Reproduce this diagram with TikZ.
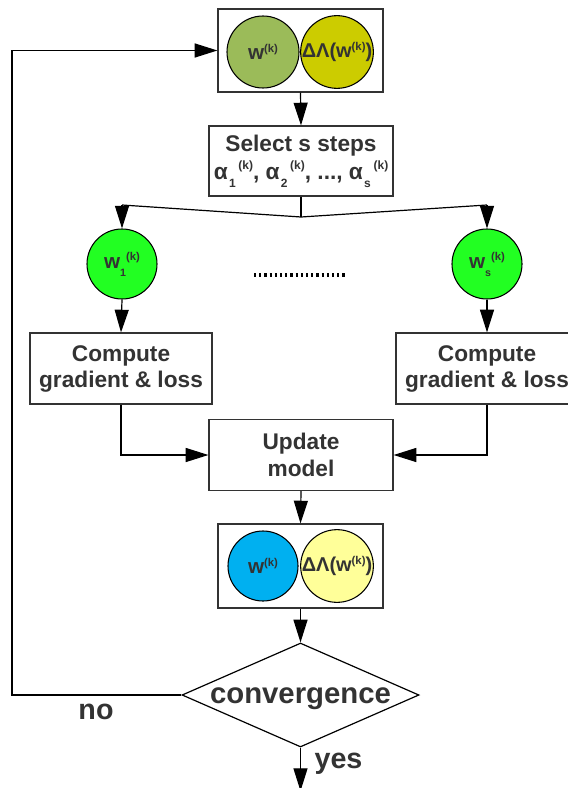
\documentclass[tikz,border=0pt]{standalone}
\usepackage{fontspec}
\setmainfont{Liberation Sans}
\usetikzlibrary{arrows.meta,shapes.geometric}
\definecolor{txt}{HTML}{333333}
\definecolor{oliveg}{HTML}{9BBB59}
\definecolor{mustard}{HTML}{CCCC00}
\definecolor{brightg}{HTML}{22FF22}
\definecolor{skyb}{HTML}{00B0F0}
\definecolor{paley}{HTML}{FFFF99}
\newcommand{\wk}{w\raisebox{4.9pt}{\fontsize{8.5}{8.5}\selectfont(k)}}
\newcommand{\wsub}[1]{w\raisebox{-6pt}{\fontsize{8}{8}\selectfont #1}\raisebox{6pt}{\fontsize{8.5}{8.5}\selectfont(k)}}
\newcommand{\alk}[1]{α\kern1pt\raisebox{-6pt}{\fontsize{9}{9}\selectfont #1}\kern2pt\raisebox{7pt}{\fontsize{9}{9}\selectfont(k)}}
\begin{document}
\begin{tikzpicture}[x=0.75pt,y=-0.75pt,
  box/.style={draw=txt, line width=0.9pt, fill=white, inner sep=0pt, text=txt,
    font=\bfseries\fontsize{17}{20}\selectfont, align=center},
  ball/.style={circle, draw=black, line width=0.8pt, inner sep=0pt, minimum size=#1,
    text=txt, font=\bfseries\fontsize{15.5}{15.5}\selectfont},
  ball/.default=52.5pt,
  arr/.style={-{Triangle[length=17pt,width=10.5pt]}, line width=0.9pt},
  conn/.style={line width=0.9pt},
  lbl/.style={inner sep=0pt, text=txt, font=\bfseries\fontsize{21.5}{21.5}\selectfont},
  dotline/.style={line width=3.2pt, dash pattern=on 1.6pt off 2.3pt},
]
\useasboundingbox (0,0) rectangle (567,788);

% top container
\node[box, minimum width=123.75pt, minimum height=62.25pt] (topbox) at (300.5,50.5) {};
\node[ball=54pt, fill=oliveg] (c1) at (263,52) {\wk};
\node[ball=54pt, fill=mustard, font=\bfseries\fontsize{15}{15}\selectfont] (c2) at (337,52) {ΔΛ(\wk)};

% select
\node[box, minimum width=138pt, minimum height=52.5pt, font=\bfseries\fontsize{17}{21}\selectfont] (select) at (301,161)
  {Select s steps\\\alk{1}, \alk{2}, ..., \alk{s}};

\coordinate (split) at (301,217);
\coordinate (bl) at (122,205);
\coordinate (br) at (487,205);

\node[ball, fill=brightg] (w1) at (122,264) {\wsub{1}};
\node[ball, fill=brightg] (ws) at (487,264) {\wsub{s}};

\coordinate (dl) at (254,275);
\coordinate (dr) at (347,275);

\node[box, minimum width=136.5pt, minimum height=53.25pt, text depth=3pt] (compL) at (121,368.5) {Compute\\gradient \& loss};
\node[box, minimum width=136.5pt, minimum height=53.25pt, text depth=3pt] (compR) at (487,368.5) {Compute\\gradient \& loss};

\node[box, minimum width=138pt, minimum height=53.25pt] (update) at (301,455) {Update\\model};

% bottom container
\node[box, minimum width=123.75pt, minimum height=63pt] (botbox) at (300.5,566) {};
\node[ball, fill=skyb] (c3) at (263,566) {\wk};
\node[ball, fill=paley, font=\bfseries\fontsize{15}{15}\selectfont] (c4) at (337,566) {ΔΛ(\wk)};

\node[diamond, draw=black, line width=0.9pt, minimum width=177.75pt, minimum height=78pt,
  aspect=2.28, inner sep=0pt, text=txt, text height=13pt, text depth=0pt,
  font=\bfseries\fontsize{22}{22}\selectfont] (conv) at (300.5,695) {convergence};

\coordinate (fb) at (12,695);
\coordinate (end) at (300.5,791);

\node[lbl] (no) at (96,712) {no};
\node[lbl] (yes) at (338.5,764) {yes};

% connectors
\draw[arr] (topbox.south) -- (select.north);
\draw[conn] (select.south) -- (split);
\draw[conn] (split) -- (bl);
\draw[conn] (split) -- (br);
\draw[arr] (bl) -- (w1.north);
\draw[arr] (br) -- (ws.north);
\draw[dotline] (dl) -- (dr);
\draw[arr] (w1.south) -- (compL.north);
\draw[arr] (ws.south) -- (compR.north);
\draw[arr] (compL.south) |- (update.west);
\draw[arr] (compR.south) |- (update.east);
\draw[arr] (update.south) -- (botbox.north);
\draw[arr] (botbox.south) -- (conv.north);
\draw[arr] (conv.south) -- (end);
\draw[arr] (conv.west) -- (fb) |- (topbox.west);
\end{tikzpicture}
\end{document}
